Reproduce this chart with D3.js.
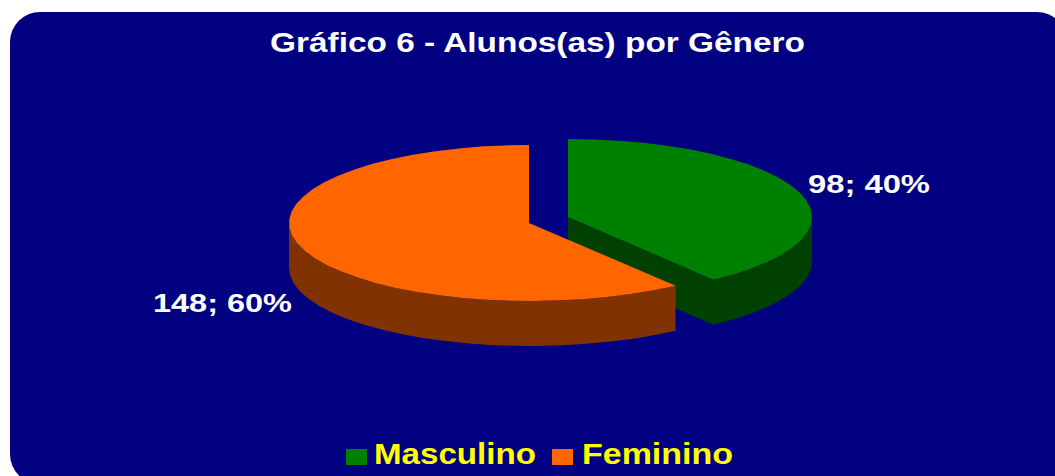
<!DOCTYPE html>
<html>
<head>
<meta charset="utf-8">
<script src="https://cdn.jsdelivr.net/npm/d3@7"></script>
<style>
  html, body { margin: 0; padding: 0; background: #fff; overflow: hidden; }
  text { font-family: "Liberation Sans", Arial, sans-serif; font-weight: bold; }
</style>
</head>
<body>
<div id="chart"></div>
<script>
var categories = ["Masculino", "Feminino"];
var values = [98, 148];
var percents = ["40%", "60%"];
var topColors = ["#008000", "#ff6600"];
var sideColors = ["#004000", "#803300"];
var chartTitle = "Gráfico 6 - Alunos(as) por Gênero";

var width = 1055,
    height = 476;

var svg = d3.select("#chart").append("svg")
    .attr("width", width)
    .attr("height", height)
    .style("display", "block");

// the dark panel runs off the right and bottom of the picture
svg.append("rect")
    .attr("x", 10)
    .attr("y", 12)
    .attr("width", 1057)
    .attr("height", 472)
    .attr("rx", 30)
    .attr("ry", 30)
    .attr("fill", "#000080");

svg.append("text")
    .attr("x", 270)
    .attr("y", 52)
    .attr("font-size", 27)
    .attr("fill", "#fff")
    .attr("textLength", 535)
    .attr("lengthAdjust", "spacingAndGlyphs")
    .text(chartTitle);

var ry = 78,
    depth = 45,
    facet = Math.PI / 30; // the original rim is a coarse polygon, not a curve

// each slice has its own centre because the slices are pulled apart
var centers = [[568, 217], [529, 223]];
var rightRadius = [244, 246],
    leftRadius = [244, 240];

var slices = d3.pie().sort(null)(values);

// angle 0 is 12 o'clock, going clockwise
function rim(i, a) {
  var c = centers[i],
      s = Math.sin(a),
      r = s > 0 ? rightRadius[i] : leftRadius[i];
  return [c[0] + r * s, c[1] - ry * Math.cos(a)];
}

var line = d3.line();

function rimPoints(i, from, to) {
  var n = Math.ceil((to - from) / facet);
  return d3.range(n + 1).map(function(k) { return rim(i, from + (to - from) * k / n); });
}

function topPath(d, i) {
  return line([centers[i]].concat(rimPoints(i, d.startAngle, d.endAngle))) + "Z";
}

// outer wall, only the part of the rim that faces the viewer
function wallPath(d, i) {
  var upper = rimPoints(i, Math.max(d.startAngle, Math.PI / 2), Math.min(d.endAngle, Math.PI * 1.5));
  var lower = upper.map(function(p) { return [p[0], p[1] + depth]; }).reverse();
  return line(upper.concat(lower)) + "Z";
}

// flat cut face of the slice at its end angle
function cutPath(d, i) {
  var c = centers[i],
      p = rim(i, d.endAngle);
  return line([c, p, [p[0], p[1] + depth], [c[0], c[1] + depth]]) + "Z";
}

var sliceG = svg.selectAll("g.slice")
    .data(slices)
  .enter().append("g")
    .attr("class", "slice");

sliceG.filter(function(d, i) { return i === 0; }).append("path")
    .attr("d", function(d) { return cutPath(d, 0); })
    .attr("fill", sideColors[0]);

sliceG.append("path")
    .attr("d", wallPath)
    .attr("fill", function(d, i) { return sideColors[i]; });

sliceG.append("path")
    .attr("d", topPath)
    .attr("fill", function(d, i) { return topColors[i]; });

// data labels
var labelPos = [[808, 193, 122], [153, 312, 139]];

svg.selectAll("text.value")
    .data(values)
  .enter().append("text")
    .attr("class", "value")
    .attr("x", function(d, i) { return labelPos[i][0]; })
    .attr("y", function(d, i) { return labelPos[i][1]; })
    .attr("font-size", 26)
    .attr("fill", "#fff")
    .attr("textLength", function(d, i) { return labelPos[i][2]; })
    .attr("lengthAdjust", "spacingAndGlyphs")
    .text(function(d, i) { return d + "; " + percents[i]; });

// legend
var legendX = [346, 552],
    legendTextX = [374, 582],
    legendW = [162, 151];

var legend = svg.selectAll("g.legend")
    .data(categories)
  .enter().append("g")
    .attr("class", "legend");

legend.append("rect")
    .attr("x", function(d, i) { return legendX[i]; })
    .attr("y", 449)
    .attr("width", 21)
    .attr("height", 16)
    .attr("fill", function(d, i) { return topColors[i]; });

legend.append("text")
    .attr("x", function(d, i) { return legendTextX[i]; })
    .attr("y", 464)
    .attr("font-size", 29)
    .attr("fill", "#ffff00")
    .attr("textLength", function(d, i) { return legendW[i]; })
    .attr("lengthAdjust", "spacingAndGlyphs")
    .text(function(d) { return d; });
</script>
</body>
</html>
